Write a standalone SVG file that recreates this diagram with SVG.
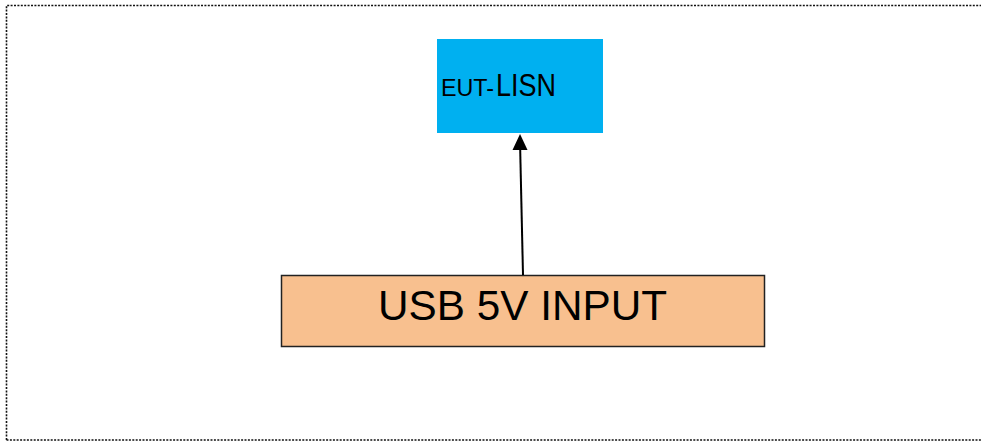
<svg xmlns="http://www.w3.org/2000/svg" width="981" height="442" viewBox="0 0 981 442">
<style>
.lbl{font-family:"Liberation Sans",Arial,sans-serif;fill:#000}
</style>
<rect width="981" height="442" fill="#fff"/>
<path d="M6.5 440 L6.5 5.5 L981 5.5 M6.5 440 L981 440" fill="none" stroke="#111" stroke-width="1.6" stroke-dasharray="2 1.4"/>
<g id="eut-lisn">
<rect x="437" y="39" width="166" height="94" fill="#00B0F0"/>
<text class="lbl" x="441" y="96"><tspan font-size="24" textLength="53" lengthAdjust="spacingAndGlyphs">EUT-</tspan><tspan font-size="32" textLength="60" lengthAdjust="spacingAndGlyphs" dx="2">LISN</tspan></text>
</g>
<g id="usb-input">
<rect x="281.5" y="275.5" width="483" height="71" fill="#F8C08F" stroke="#222" stroke-width="1.5"/>
<text class="lbl" x="378" y="320" font-size="43" textLength="289" lengthAdjust="spacingAndGlyphs">USB 5V INPUT</text>
</g>
<g id="connectors">
<line x1="523" y1="275" x2="520.2" y2="150" stroke="#000" stroke-width="2"/>
<path d="M520 134 L527.5 150 L512.5 150 Z" fill="#000"/>
</g>
</svg>
